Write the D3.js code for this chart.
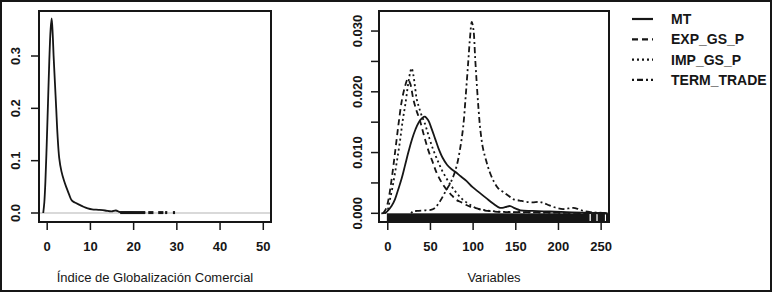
<!DOCTYPE html>
<html>
<head>
  <meta charset="utf-8">
  <script src="https://cdnjs.cloudflare.com/ajax/libs/d3/7.8.5/d3.min.js" type="text/javascript"></script>
  <style>
    body { margin: 0; background: #fff; }
    svg { display: block; font-family: "Liberation Sans", Arial, sans-serif; }
  </style>
</head>
<body>
  <svg id="chart" width="773" height="293"></svg>
  <script>

// ---- left panel: density of the trade globalisation index ----
var indexDensity = [
  [-0.8, 0], [-0.55, 0.02], [-0.3, 0.06], [0, 0.13], [0.3, 0.21], [0.6, 0.29], [0.9, 0.35],
  [1.15, 0.372], [1.4, 0.34], [1.6, 0.3], [1.9, 0.25], [2.2, 0.2], [2.5, 0.15], [2.9, 0.105],
  [3.4, 0.08], [4.0, 0.062], [4.6, 0.048], [5.2, 0.035], [5.8, 0.024], [6.5, 0.02],
  [7.5, 0.016], [8.5, 0.012], [9.5, 0.009], [10.5, 0.007], [12, 0.006], [13.5, 0.0048],
  [15, 0.003], [16, 0.0048], [17, 0.0015], [19, 0.001], [21, 0.0008], [22.8, 0.0006]
];
var indexTail = [[17, 22.8], [23.5, 24.7], [25.8, 27], [27.4, 27.9], [29.2, 29.7]];
var indexXTicks = [0, 10, 20, 30, 40, 50];
var indexYTicks = [0.0, 0.1, 0.2, 0.3];
var indexYLabels = ["0.0", "0.1", "0.2", "0.3"];

// ---- right panel: densities of the four variables ----
var seriesNames = ["MT", "EXP_GS_P", "IMP_GS_P", "TERM_TRADE"];
var mtDensity = [
  [-7, 0], [-2, 0.0001], [1, 0.0005], [5, 0.0012], [9, 0.0023], [13, 0.0040], [17, 0.0058],
  [21, 0.0080], [25, 0.0102], [29, 0.0122], [33, 0.0138], [37, 0.0150], [41, 0.0157],
  [44, 0.0159], [48, 0.0153], [52, 0.0139], [56, 0.0123], [60, 0.0107], [65, 0.0091],
  [70, 0.0080], [75, 0.0073], [80, 0.0068], [86, 0.0061], [93, 0.0053], [100, 0.0043],
  [108, 0.0034], [116, 0.0025], [124, 0.0016], [132, 0.0009], [138, 0.0010], [144, 0.0012],
  [150, 0.0008], [156, 0.0005], [170, 0.0004], [190, 0.0003], [210, 0.0002], [230, 0.0001], [258, 0]
];
var expDensity = [
  [-5, 0], [-2, 0.0006], [1, 0.002], [5, 0.0055], [9, 0.0099], [13, 0.0145], [17, 0.0185],
  [21, 0.0210], [24, 0.0221], [27, 0.0213], [30.5, 0.0188], [34, 0.0170], [38, 0.0154],
  [43, 0.0128], [48, 0.0104], [53, 0.0085], [58, 0.0066], [64, 0.0050], [70, 0.0038],
  [76, 0.0029], [81, 0.0022], [87, 0.0018], [92, 0.0014], [97, 0.0011], [105, 0.0008],
  [112, 0.0005], [125, 0.0003], [140, 0.0002], [160, 0.0002], [200, 0.0001], [258, 0]
];
var impDensity = [
  [-3, 0], [0, 0.0004], [3, 0.0022], [6, 0.0042], [9, 0.0066], [12, 0.0092], [15, 0.0120],
  [18, 0.0152], [21, 0.0178], [24.6, 0.0214], [27, 0.0233], [28.5, 0.0239], [30.5, 0.0228],
  [32.5, 0.0208], [34.5, 0.0188], [37, 0.0175], [40, 0.0162], [44, 0.0148], [49, 0.0125],
  [54, 0.0104], [59, 0.0087], [64, 0.0071], [70, 0.0056], [75.5, 0.0044], [82, 0.0032],
  [89, 0.0022], [97, 0.0014], [105, 0.0008], [115, 0.0005], [128, 0.0003], [150, 0.0002],
  [200, 0.0001], [258, 0]
];
var termDensity = [
  [28, 0], [30, 0.0003], [35, 0.0004], [45, 0.0005], [52, 0.0006], [56, 0.0009], [60, 0.0016],
  [64, 0.0025], [69, 0.0038], [74, 0.0050], [78, 0.0063], [82, 0.0082], [86, 0.0112],
  [89, 0.0143], [92, 0.0195], [95, 0.0252], [97, 0.0290], [99, 0.0315], [101, 0.0302],
  [103, 0.0255], [105, 0.0210], [107, 0.0170], [109, 0.0138], [112, 0.0108], [116, 0.0086],
  [120, 0.0068], [125, 0.0052], [130, 0.0041], [136, 0.0035], [142, 0.0029], [148, 0.0023],
  [155, 0.0021], [162, 0.0019], [170, 0.0018], [178, 0.0019], [183, 0.0017], [190, 0.0013],
  [198, 0.0009], [206, 0.0007], [212, 0.0008], [218, 0.0009], [224, 0.0007], [230, 0.0004],
  [238, 0.0002], [248, 0.0001], [258, 0]
];
var rugSegments = [[-0.5, 237], [238.5, 245], [246.5, 255], [256.3, 259.8]];
var varXTicks = [0, 50, 100, 150, 200, 250];
var varYTicks = [0, 0.005, 0.010, 0.015, 0.020, 0.025, 0.030];
var varYLabelled = [0, 0.010, 0.020, 0.030];
var varYLabels = ["0.000", "0.010", "0.020", "0.030"];

var seriesData = [mtDensity, expDensity, impDensity, termDensity];
var seriesDash = [null, "6,4", "2,3", "2,3,6,3"];

var svg = d3.select("#chart");
var ink = "#161616";

svg.append("rect")
  .attr("x", 0).attr("y", 0).attr("width", 773).attr("height", 293)
  .attr("fill", "#fff");
// outer frame
svg.append("rect")
  .attr("x", 1).attr("y", 1).attr("width", 770).attr("height", 290)
  .attr("fill", "none").attr("stroke", ink).attr("stroke-width", 2);

function drawPanel(opt) {
  var x = opt.x, y = opt.y;
  var g = svg.append("g");

  // x axis ticks + labels
  var ax = g.append("g")
    .attr("transform", "translate(0," + y.range()[0] + ")")
    .call(d3.axisBottom(x).tickValues(opt.xTicks).tickSize(8).tickPadding(12).tickFormat(d3.format("d")));
  ax.select(".domain").remove();
  ax.selectAll("line").attr("stroke", ink).attr("stroke-width", 1.5);
  ax.selectAll("text")
    .attr("fill", ink).attr("font-size", 13).attr("font-weight", "bold")
    .attr("font-family", "\"Liberation Sans\", Arial, sans-serif");

  // y ticks
  g.selectAll(".ytick").data(opt.yTicks).enter().append("line")
    .attr("x1", x.range()[0] - 8).attr("x2", x.range()[0])
    .attr("y1", function(d) { return y(d); }).attr("y2", function(d) { return y(d); })
    .attr("stroke", ink).attr("stroke-width", 1.5);

  g.selectAll(".ylab").data(opt.yLabelled).enter().append("text")
    .attr("transform", function(d) { return "translate(" + opt.yLabelX + "," + y(d) + ") rotate(-90)"; })
    .attr("dy", "0.36em")
    .attr("text-anchor", "middle")
    .attr("font-size", 13).attr("font-weight", "bold").attr("fill", ink)
    .text(function(d, i) { return opt.yLabels[i]; });

  // axis title
  g.append("text")
    .attr("x", (x.range()[0] + x.range()[1]) / 2).attr("y", 277)
    .attr("dy", "0.35em").attr("text-anchor", "middle")
    .attr("font-size", 13).attr("fill", ink)
    .text(opt.title);

  return g;
}

// ---------- left panel ----------
var xL = d3.scaleLinear().domain([-1.78, 51.9]).range([39, 271]);
var yL = d3.scaleLinear().domain([-0.0172, 0.386]).range([222, 11]);

var gL = drawPanel({
  x: xL, y: yL, xTicks: indexXTicks, yTicks: indexYTicks, yLabelled: indexYTicks,
  yLabels: indexYLabels, yLabelX: 15, title: "Índice de Globalización Comercial"
});

gL.append("line")
  .attr("x1", xL.range()[0]).attr("x2", xL.range()[1])
  .attr("y1", yL(0)).attr("y2", yL(0))
  .attr("stroke", "#b4b4b4").attr("stroke-width", 1.2);

gL.append("path")
  .datum(indexDensity)
  .attr("fill", "none").attr("stroke", ink).attr("stroke-width", 1.8)
  .attr("stroke-linejoin", "round")
  .attr("d", d3.line()
    .x(function(d) { return xL(d[0]); })
    .y(function(d) { return yL(d[1]); })
    .curve(d3.curveCatmullRom.alpha(0.5)));

gL.selectAll(".tail").data(indexTail).enter().append("line")
  .attr("x1", function(d) { return xL(d[0]); }).attr("x2", function(d) { return xL(d[1]); })
  .attr("y1", yL(0.0008)).attr("y2", yL(0.0008))
  .attr("stroke", ink).attr("stroke-width", 3);

gL.append("rect")
  .attr("x", xL.range()[0]).attr("y", yL.range()[1])
  .attr("width", xL.range()[1] - xL.range()[0]).attr("height", yL.range()[0] - yL.range()[1])
  .attr("fill", "none").attr("stroke", ink).attr("stroke-width", 2);

// ---------- right panel ----------
var xR = d3.scaleLinear().domain([-9.7, 259.8]).range([379, 609]);
var yR = d3.scaleLinear().domain([-0.00143, 0.0333]).range([222, 11]);

var gR = drawPanel({
  x: xR, y: yR, xTicks: varXTicks, yTicks: varYTicks, yLabelled: varYLabelled,
  yLabels: varYLabels, yLabelX: 357, title: "Variables"
});

var lineR = d3.line()
  .x(function(d) { return xR(d[0]); })
  .y(function(d) { return yR(d[1]); })
  .curve(d3.curveCatmullRom.alpha(0.5));

gR.selectAll(".series").data(seriesData).enter().append("path")
  .attr("fill", "none").attr("stroke", ink).attr("stroke-width", 1.8)
  .attr("stroke-dasharray", function(d, i) { return seriesDash[i]; })
  .attr("d", lineR);

// rug
gR.selectAll(".rug").data(rugSegments).enter().append("rect")
  .attr("x", function(d) { return xR(d[0]); })
  .attr("width", function(d) { return xR(d[1]) - xR(d[0]); })
  .attr("y", yR(0))
  .attr("height", yR.range()[0] - yR(0))
  .attr("fill", ink);

gR.append("rect")
  .attr("x", xR.range()[0]).attr("y", yR.range()[1])
  .attr("width", xR.range()[1] - xR.range()[0]).attr("height", yR.range()[0] - yR.range()[1])
  .attr("fill", "none").attr("stroke", ink).attr("stroke-width", 2);

// legend
var legend = svg.append("g").selectAll("g")
  .data(seriesNames).enter().append("g")
  .attr("transform", function(d, i) { return "translate(0," + (19 + i * 20.3) + ")"; });

legend.append("line")
  .attr("x1", 632).attr("x2", 653)
  .attr("stroke", ink).attr("stroke-width", 2.2)
  .attr("stroke-dasharray", function(d, i) { return seriesDash[i]; });

legend.append("text")
  .attr("x", 671).attr("dy", "0.36em")
  .attr("font-size", 14).attr("font-weight", "bold").attr("fill", ink)
  .text(function(d) { return d; });

  </script>
</body>
</html>
